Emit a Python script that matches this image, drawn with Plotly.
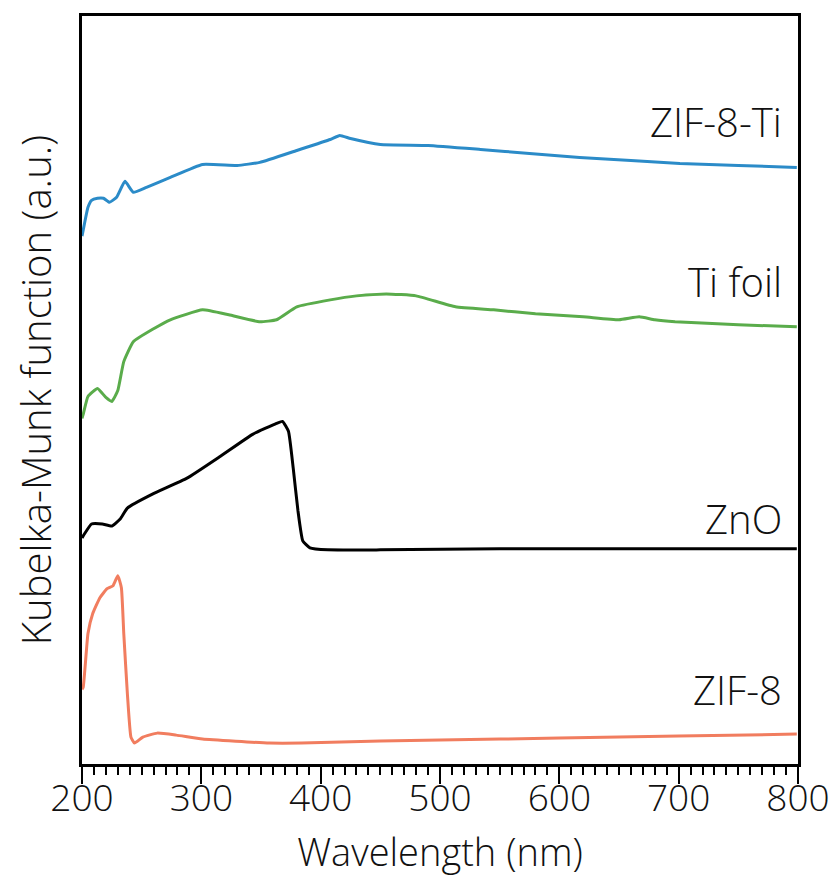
import plotly.graph_objects as go

# Wavelength (nm) and Kubelka-Munk values (arbitrary units, offset stacked as in the figure)
zif8ti_x = [200, 201, 205, 208, 213, 218, 223, 229, 236, 243, 254, 274, 301, 330, 349, 380, 408, 416, 425, 450, 490, 534, 575, 617, 660, 701, 750, 799]
zif8ti_y = [530, 536, 559, 566, 568, 568, 564, 569, 585, 574, 579, 589, 602, 601, 604, 616, 627, 631, 628, 622, 621, 617, 613, 609, 606, 603, 601, 599]

tifoil_x = [200, 201, 205, 213, 220, 225, 230, 235, 243, 260, 274, 301, 323, 349, 363, 380, 408, 430, 455, 480, 513, 545, 580, 620, 650, 667, 680, 697, 750, 799]
tifoil_y = [347, 351, 369, 377, 368, 364, 375, 404, 424, 437, 446, 456, 451, 444, 446, 459, 466, 470, 472, 470, 459, 456, 452, 449, 446, 449, 446, 444, 441, 439]

zno_x = [200, 201, 208, 217, 225, 232, 238, 259, 288, 316, 343, 363, 368, 373, 377, 381, 385, 391, 406, 450, 550, 650, 799]
zno_y = [227, 229, 241, 241, 239, 246, 257, 271, 287, 309, 331, 342, 344, 334, 297, 254, 224, 217, 215, 215, 216, 216, 216]

zif8_x = [200, 201, 205, 209, 215, 221, 226, 230, 233, 235, 238, 241, 244, 251, 263, 279, 301, 357, 384, 450, 500, 600, 700, 799]
zif8_y = [75, 77, 131, 151, 167, 176, 179, 189, 177, 131, 71, 27, 21, 27, 31, 29, 25, 21, 21, 23, 24, 26, 28, 30]

labels = ["ZIF-8-Ti", "Ti foil", "ZnO", "ZIF-8"]
label_y = [645, 484, 246, 75]
colors = ["#2b8bc8", "#5aac4b", "#000000", "#f17d5f"]

xs = [zif8ti_x, tifoil_x, zno_x, zif8_x]
ys = [zif8ti_y, tifoil_y, zno_y, zif8_y]

FONT = "Open Sans"
TXT = "#111111"

fig = go.Figure()
for x, y, name, c in zip(xs, ys, labels, colors):
    fig.add_trace(go.Scatter(x=x, y=y, mode="lines", name=name,
                             line=dict(color=c, width=3, shape="spline", smoothing=0.4),
                             showlegend=False))

for name, yv in zip(labels, label_y):
    fig.add_annotation(x=788, y=yv, text=name, showarrow=False, xanchor="right",
                       yanchor="middle", font=dict(family=FONT, size=40, color=TXT, weight=300))

fig.update_xaxes(range=[200, 800], dtick=100, tick0=200, ticks="outside", ticklen=17,
                 tickwidth=2, tickcolor="black", showline=True, linewidth=2.5,
                 linecolor="black", mirror=True, showgrid=False, zeroline=False,
                 ticklabelstandoff=-17,
                 minor=dict(dtick=10, ticks="outside", ticklen=8, tickwidth=2, tickcolor="black"),
                 tickfont=dict(family=FONT, size=37, color=TXT, weight=300),
                 title=dict(text="Wavelength (nm)", standoff=19,
                            font=dict(family=FONT, size=38, color=TXT, weight=300)))
fig.update_yaxes(range=[0, 751], showticklabels=False, ticks="", showline=True,
                 linewidth=2.5, linecolor="black", mirror=True, showgrid=False, zeroline=False,
                 title=dict(text="Kubelka-Munk function (a.u.)", standoff=22,
                            font=dict(family=FONT, size=40, color=TXT, weight=300)))

fig.update_layout(width=830, height=877, margin=dict(l=74, r=40, t=5, b=121),
                  plot_bgcolor="white", paper_bgcolor="white")

fig.write_html("out.html")
